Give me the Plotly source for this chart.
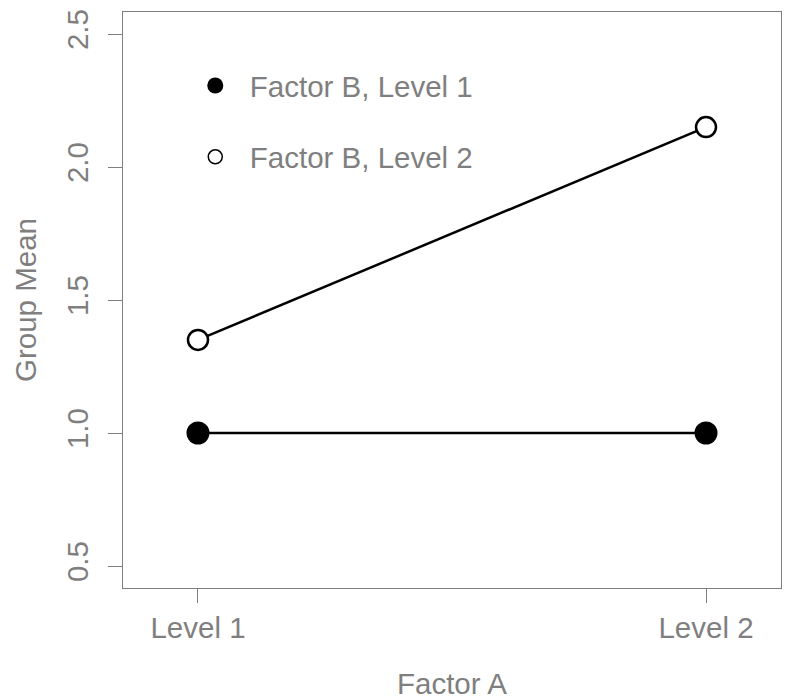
import plotly.graph_objects as go

factor_a = ["Level 1", "Level 2"]
x_pos = [1, 2]
b1_means = [1.0, 1.0]
b2_means = [1.35, 2.15]
series_names = ["Factor B, Level 1", "Factor B, Level 2"]
y_ticks = [0.5, 1.0, 1.5, 2.0, 2.5]
y_ticklabels = ["0.5", "1.0", "1.5", "2.0", "2.5"]

GRAY = "#7f7f7f"
FONT = "Liberation Sans, Arial, sans-serif"
FS = 29.5

fig = go.Figure()
# lines
for vals in (b1_means, b2_means):
    fig.add_trace(go.Scatter(x=x_pos, y=vals, mode="lines",
                             line=dict(color="black", width=2.5),
                             showlegend=False, hoverinfo="skip"))
# data markers
fig.add_trace(go.Scatter(x=x_pos, y=b1_means, mode="markers", name=series_names[0],
                         showlegend=False,
                         marker=dict(symbol="circle", size=23, color="black",
                                     line=dict(color="black", width=0))))
fig.add_trace(go.Scatter(x=x_pos, y=b2_means, mode="markers", name=series_names[1],
                         showlegend=False,
                         marker=dict(symbol="circle", size=20, color="white",
                                     line=dict(color="black", width=2.5))))
# legend entries (legend-only keys)
fig.add_trace(go.Scatter(x=[None], y=[None], mode="markers", name=series_names[0],
                         legendgroup="g1",
                         marker=dict(symbol="circle", size=17, color="black",
                                     line=dict(color="black", width=0))))
fig.add_trace(go.Scatter(x=[None], y=[None], mode="markers", name=series_names[1],
                         legendgroup="g2",
                         marker=dict(symbol="circle", size=14, color="white",
                                     line=dict(color="black", width=1.5))))

fig.update_layout(
    width=783, height=692,
    margin=dict(l=115, r=10, t=4, b=112, autoexpand=False),
    paper_bgcolor="white", plot_bgcolor="white",
    font=dict(family=FONT, size=FS, color=GRAY),
    showlegend=True,
    legend=dict(x=0.0878, y=0.917, xanchor="left", yanchor="top",
                bgcolor="rgba(0,0,0,0)", borderwidth=0,
                font=dict(size=FS, color=GRAY),
                tracegroupgap=30, itemsizing="trace", itemwidth=59),
    xaxis=dict(range=[0.8524, 2.1476], tickvals=x_pos, ticktext=factor_a,
               showgrid=False, zeroline=False, automargin=False,
               showline=True, mirror=True, linecolor=GRAY, linewidth=1,
               ticks="outside", ticklen=14, tickcolor=GRAY, tickwidth=1,
               tickfont=dict(size=FS, color=GRAY)),
    yaxis=dict(range=[0.4173, 2.5827], tickvals=y_ticks, ticktext=y_ticklabels,
               showgrid=False, zeroline=False, automargin=False,
               showline=True, mirror=True, linecolor=GRAY, linewidth=1,
               ticks="outside", ticklen=14, tickcolor=GRAY, tickwidth=1,
               tickangle=-90, ticklabelstandoff=8,
               tickfont=dict(size=FS, color=GRAY)),
    annotations=[
        dict(text="Factor A", xref="paper", yref="paper", x=0.5, y=0,
             xanchor="center", yanchor="middle", yshift=-95, showarrow=False,
             font=dict(size=FS, color=GRAY)),
        dict(text="Group Mean", xref="paper", yref="paper", x=0, y=0.5,
             xanchor="center", yanchor="middle", xshift=-98, textangle=-90,
             showarrow=False, font=dict(size=FS, color=GRAY)),
    ],
)

fig.write_html("out.html")
